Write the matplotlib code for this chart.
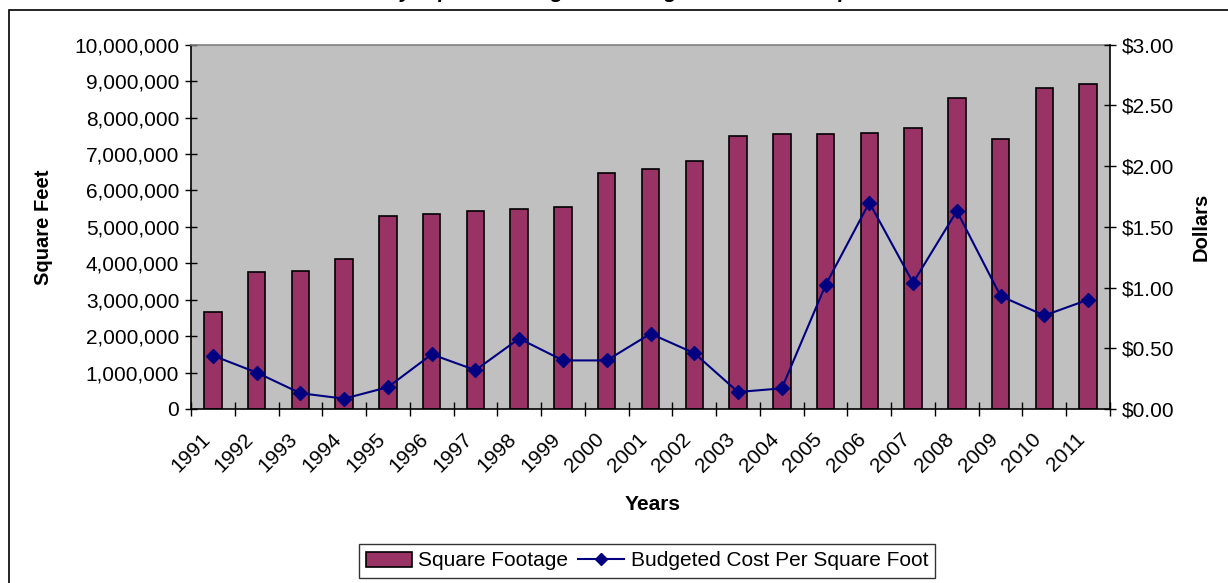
import matplotlib
matplotlib.use("Agg")
import matplotlib.pyplot as plt
import matplotlib.transforms as mtransforms
from matplotlib.patches import Rectangle, Patch
from matplotlib.lines import Line2D
from matplotlib.ticker import FuncFormatter, MultipleLocator, FixedLocator

plt.rcParams['font.family'] = ['Liberation Sans', 'DejaVu Sans']

years = ['1991', '1992', '1993', '1994', '1995', '1996', '1997', '1998', '1999', '2000',
         '2001', '2002', '2003', '2004', '2005', '2006', '2007', '2008', '2009', '2010', '2011']
square_footage = [2650000, 3750000, 3800000, 4110000, 5310000, 5350000, 5440000, 5490000,
                  5540000, 6490000, 6580000, 6810000, 7490000, 7540000, 7540000, 7580000,
                  7720000, 8540000, 7400000, 8820000, 8920000]
cost_per_sqft = [0.44, 0.30, 0.13, 0.085, 0.18, 0.45, 0.32, 0.58, 0.40, 0.40,
                 0.62, 0.46, 0.14, 0.17, 1.02, 1.70, 1.04, 1.63, 0.93, 0.77, 0.90]
title_text = "Facility Square Footage and Budgeted Cost Per Square Foot"

W, H = 1228, 583
fig = plt.figure(figsize=(W / 100, H / 100), dpi=100)
fig.patch.set_facecolor('white')

# outer chart border
fig.patches.append(Rectangle((9 / W, -0.05), 1.2, 1 - 10 / H + 0.05, transform=fig.transFigure,
                             fill=False, edgecolor='black', linewidth=1.2, zorder=0))

left, right, top, bottom = 191, 1110, 44.7, 409
ax = fig.add_axes([left / W, 1 - bottom / H, (right - left) / W, (bottom - top) / H])
ax.set_facecolor('#C0C0C0')

x = list(range(len(years)))
ax.bar(x, square_footage, width=0.4, color='#993366', edgecolor='black', linewidth=1.2, zorder=2)
ax.set_xlim(-0.5, len(years) - 0.5)
ax.set_ylim(0, 10000000)
ax.yaxis.set_major_locator(MultipleLocator(1000000))
ax.yaxis.set_major_formatter(FuncFormatter(lambda v, p: f"{int(v):,}"))

ax.xaxis.set_major_locator(FixedLocator([i - 0.5 for i in range(len(years) + 1)]))
ax.xaxis.set_major_formatter(FuncFormatter(lambda v, p: ''))
ax.xaxis.set_minor_locator(FixedLocator(x))
ax.set_xticklabels(years, minor=True)
ax.tick_params(axis='x', which='major', direction='inout', length=10, width=1, color='black')
ax.tick_params(axis='x', which='minor', length=0, pad=10, labelsize=15)
for lab in ax.xaxis.get_minorticklabels():
    lab.set_rotation(45)
    lab.set_ha('right')
    lab.set_va('center')
    lab.set_rotation_mode('anchor')
    lab.set_transform(lab.get_transform() + mtransforms.ScaledTranslation(-6 / 100, -13 / 100, fig.dpi_scale_trans))

ax.tick_params(axis='y', direction='inout', length=9, width=1, labelsize=15, pad=4)

for s in ['left', 'bottom']:
    ax.spines[s].set_color('black')
    ax.spines[s].set_linewidth(1.2)
ax.spines['top'].set_color('#808080')
ax.spines['top'].set_linewidth(1.2)
ax.spines['right'].set_visible(False)

ax.set_ylabel('Square Feet', fontsize=14.5, fontweight='bold')
ax.yaxis.set_label_coords(-0.150, 0.5)
ax.set_xlabel('Years', fontsize=15, fontweight='bold')
ax.xaxis.set_label_coords(0.502, -0.236)

ax2 = ax.twinx()
ax2.plot(x, cost_per_sqft, color='#000080', marker='D', markersize=7, linewidth=1.5, zorder=3)
ax2.set_ylim(0, 3.0)
ax2.yaxis.set_major_locator(MultipleLocator(0.5))
ax2.yaxis.set_major_formatter(FuncFormatter(lambda v, p: f"${v:.2f}"))
ax2.tick_params(axis='y', direction='inout', length=9, width=1, labelsize=15, pad=4)
for s in ['left', 'top', 'bottom']:
    ax2.spines[s].set_visible(False)
ax2.spines['right'].set_color('black')
ax2.spines['right'].set_linewidth(1.2)
ax2.set_ylabel('Dollars', fontsize=14.5, fontweight='bold')
ax2.yaxis.set_label_coords(1.089, 0.5)

# title (largely cropped at the top of the image, as in the reference)
fig.text(0.521, 1 + 1.5 / H, title_text, ha='center', va='baseline', fontsize=15,
         fontweight='bold', fontstyle='italic')

handles = [Patch(facecolor='#993366', edgecolor='black', linewidth=1.2),
           Line2D([], [], color='#000080', marker='D', markersize=6, linewidth=1.5)]
leg = fig.legend(handles, ['Square Footage', 'Budgeted Cost Per Square Foot'],
                 loc='center', bbox_to_anchor=(647 / W, 1 - 561 / H), ncol=2,
                 fontsize=15, frameon=True, fancybox=False, edgecolor='black',
                 handlelength=2.2, handletextpad=0.3, columnspacing=0.5,
                 borderpad=0.35, borderaxespad=0)
leg.get_frame().set_linewidth(1.0)

fig.savefig('out.png', dpi=100)
